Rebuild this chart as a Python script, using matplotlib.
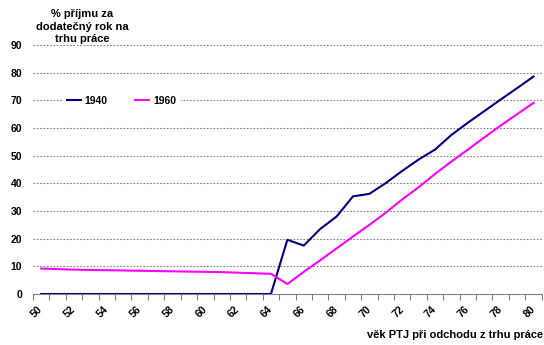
import matplotlib
matplotlib.use("Agg")
import matplotlib.pyplot as plt
import matplotlib.transforms as mtransforms
import numpy as np

ages = list(range(50, 81))
y1940 = [0, 0, 0, 0, 0, 0, 0, 0, 0, 0, 0, 0, 0, 0, 0,
         19.6, 17.5, 23.5, 28.0, 35.3, 36.2, 40.1, 44.5, 48.6, 52.2,
         57.5, 61.9, 66.1, 70.3, 74.4, 78.6]
y1960 = [9.2, 9.0, 8.8, 8.7, 8.6, 8.5, 8.4, 8.3, 8.2, 8.1, 8.0, 7.9, 7.7, 7.5, 7.3,
         3.6, 8.0, 12.2, 16.5, 20.8, 25.0, 29.4, 34.2, 38.6, 43.4,
         47.9, 52.2, 56.6, 60.9, 65.0, 69.1]
series_names = ["1940", "1960"]
y_ticks = [0, 10, 20, 30, 40, 50, 60, 70, 80, 90]
x_tick_labels = [str(a) for a in range(50, 81, 2)]
ylabel_text = "% příjmu za\ndodatečný rok na\ntrhu práce"
xlabel_text = "věk PTJ při odchodu z trhu práce"

plt.rcParams['font.family'] = ['Liberation Sans', 'DejaVu Sans']
plt.rcParams['font.weight'] = 'bold'

W, H = 544, 345
fig = plt.figure(figsize=(W / 100, H / 100), dpi=100)
left, right, bottom, top = 33 / W, 541.7 / W, (H - 294) / H, (H - 45) / H
ax = fig.add_axes([left, bottom, right - left, top - bottom])

ax.plot(ages, y1940, color='#000080', lw=1.5, label=series_names[0], zorder=3)
ax.plot(ages, y1960, color='#FF00FF', lw=1.5, label=series_names[1], zorder=3)

ax.set_xlim(49.5, 80.5)
ax.set_ylim(0, 90)
ax.set_yticks(y_ticks)
ax.set_yticklabels([str(v) for v in y_ticks], fontsize=7.5, fontweight='bold')
ax.tick_params(axis='y', length=0, pad=8)

ax.set_xticks(list(range(50, 81, 2)))
ax.set_xticklabels(x_tick_labels, fontsize=7.5, fontweight='bold', rotation=45,
                   rotation_mode='anchor', ha='right', va='center')
shift = mtransforms.ScaledTranslation(-4 / 100, 0, fig.dpi_scale_trans)
for lbl in ax.get_xticklabels():
    lbl.set_transform(lbl.get_transform() + shift)
ax.set_xticks(np.arange(49.5, 81, 1.0), minor=True)
ax.tick_params(axis='x', which='major', length=0, pad=10)
ax.tick_params(axis='x', which='minor', length=4, color='#808080', width=0.8)

for v in y_ticks[1:]:
    ax.axhline(v, color='#808080', lw=0.8, ls=(0, (1.5, 1.5)), zorder=1)

for s in ['top', 'right', 'left']:
    ax.spines[s].set_visible(False)
ax.spines['bottom'].set_color('#808080')
ax.spines['bottom'].set_linewidth(0.8)

leg = ax.legend(ncol=2, loc='center', bbox_to_anchor=(0.174, 0.775), frameon=True,
                fancybox=False, edgecolor='none', facecolor='white', framealpha=1,
                prop={'size': 7.5, 'weight': 'bold'}, handlelength=1.35,
                handletextpad=0.35, columnspacing=2.66, borderpad=0.5)
leg.set_zorder(4)

fig.text(82 / W, 1 - 26.5 / H, ylabel_text, ha='center', va='center', fontsize=8,
         fontweight='bold', linespacing=1.3)
fig.text(543 / W, 1 - 335 / H, xlabel_text, ha='right', va='center', fontsize=8,
         fontweight='bold')

fig.savefig('out.png', dpi=100)
